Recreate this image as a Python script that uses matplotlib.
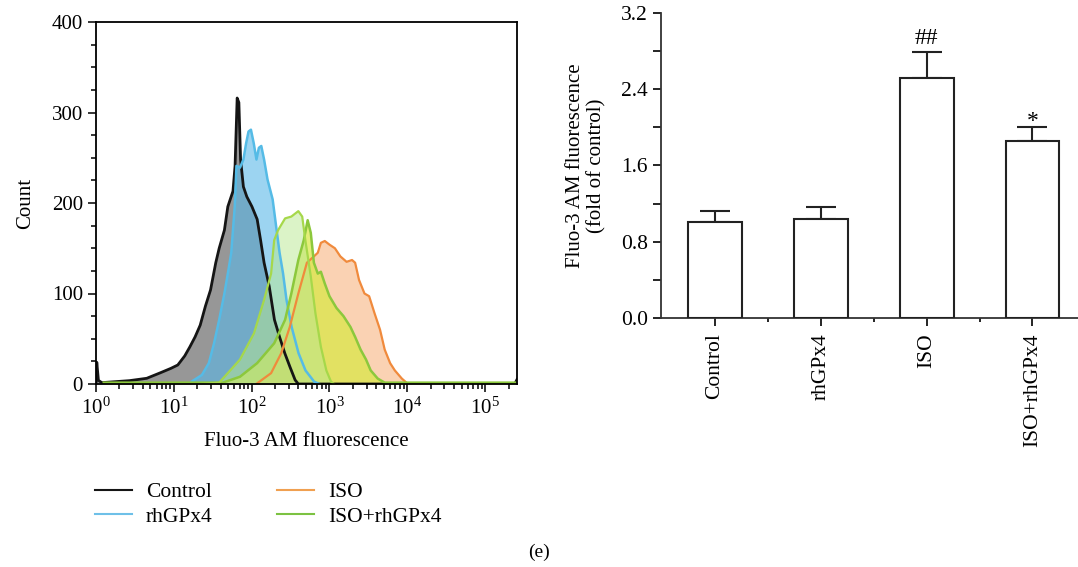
import numpy as np
import matplotlib
matplotlib.use("Agg")
from matplotlib import pyplot as plt
from matplotlib.lines import Line2D
from matplotlib.ticker import LogLocator, LogFormatterSciNotation, MultipleLocator, FixedLocator

plt.rcParams['font.family'] = ['Liberation Serif', 'DejaVu Serif']
plt.rcParams['mathtext.fontset'] = 'custom'
plt.rcParams['mathtext.rm'] = 'Liberation Serif'
plt.rcParams['mathtext.it'] = 'Liberation Serif:italic'

# histogram outlines: log10(fluorescence) and count
control_log = [0.0, 0.01, 0.031, 0.075, 0.43, 0.652, 0.83, 0.963, 1.051, 1.14, 1.206, 1.273, 1.339,
               1.406, 1.472, 1.539, 1.583, 1.65, 1.694, 1.725, 1.76, 1.787, 1.814, 1.836, 1.858,
               1.894, 1.938, 2.004, 2.071, 2.115, 2.16, 2.226, 2.293, 2.359, 2.426, 2.492, 2.559,
               2.6, 5.38, 5.41]
control_cnt = [0, 24, 4, 1.5, 3.7, 6.3, 12.5, 17.3, 21, 31, 41, 52, 65,
               86, 104, 134, 150, 170, 196, 204, 213, 241, 316, 311, 248,
               218, 207, 196, 182, 159, 134, 108, 71, 52, 34, 19, 4.4,
               0, 0, 5]

rhgpx4_log = [1.228, 1.361, 1.45, 1.517, 1.583, 1.65, 1.694, 1.738, 1.783, 1.805, 1.85, 1.894,
              1.929, 1.96, 1.991, 2.027, 2.062, 2.093, 2.124, 2.16, 2.204, 2.27, 2.315, 2.359,
              2.404, 2.448, 2.514, 2.603, 2.692, 2.803, 2.87]
rhgpx4_cnt = [2.6, 10, 23, 45, 71, 100, 122, 145, 196, 241, 239, 248,
              266, 279, 281, 266, 248, 261, 263, 248, 226, 204, 174, 145,
              122, 93, 63, 34, 15, 2.6, 0]

iso_log = [2.07, 2.25, 2.38, 2.49, 2.6, 2.71, 2.8, 2.85, 2.89, 2.94, 3.0, 3.07, 3.14, 3.22,
           3.29, 3.33, 3.38, 3.45, 3.51, 3.58, 3.65, 3.71, 3.78, 3.84, 3.93, 4.0]
iso_cnt = [0.7, 12, 34, 63, 100, 134, 141, 145, 156, 158, 154, 150, 141, 135,
           137, 134, 115, 100, 97, 78, 60, 38, 23, 15, 6, 0.7]

isorh_log = [0.1, 1.0, 1.63, 1.85, 2.07, 2.29, 2.43, 2.51, 2.6, 2.67, 2.72, 2.76, 2.8, 2.85,
             2.89, 2.94, 3.0, 3.09, 3.18, 3.27, 3.33, 3.4, 3.47, 3.53, 3.62, 3.71, 3.8, 5.41]
isorh_cnt = [1.5, 1.5, 1.5, 8, 23, 45, 71, 100, 137, 159, 181, 167, 134, 122,
             124, 111, 97, 84, 75, 63, 52, 38, 27, 15, 6, 1.5, 1.5, 1.5]

isorh2_log = [1.35, 1.583, 1.85, 2.03, 2.16, 2.25, 2.29, 2.34, 2.43, 2.51, 2.6, 2.65, 2.69,
              2.76, 2.82, 2.89, 2.96, 3.02, 3.06]
isorh2_cnt = [0, 1.5, 27, 56, 93, 122, 159, 170, 183, 185, 191, 185, 159,
              119, 78, 41, 15, 2.6, 0]

groups = ["Control", "rhGPx4", "ISO", "ISO+rhGPx4"]
means = [1.01, 1.04, 2.52, 1.86]
sems = [0.11, 0.12, 0.27, 0.14]
marks = ["", "", "##", "*"]
mark_y = [0, 0, 2.93, 2.06]

fig = plt.figure(figsize=(10.78, 5.67), dpi=100)

# left: flow cytometry histogram
ax1 = fig.add_axes([96 / 1078, 1 - 384 / 567, (517 - 96) / 1078, (384 - 22) / 567])
curves = [
    (control_log, control_cnt, '#8c8c8c', 0.9, '#151515', 2.0),
    (rhgpx4_log, rhgpx4_cnt, '#5ab8e8', 0.6, '#55bbe6', 1.8),
    (iso_log, iso_cnt, '#f7a668', 0.5, '#f08a3c', 1.6),
    (isorh_log, isorh_cnt, '#d8e840', 0.7, '#8cc83c', 1.8),
    (isorh2_log, isorh2_cnt, '#b8e890', 0.5, '#a6d84a', 1.6),
]
for lx, cnt, fc, a, lc, lw in curves:
    x = 10 ** np.array(lx)
    ax1.fill_between(x, 0, cnt, color=fc, alpha=a, lw=0)
    ax1.plot(x, cnt, color=lc, lw=lw)

ax1.set_xscale('log')
ax1.set_xlim(1, 10 ** 5.41)
ax1.set_ylim(0, 400)
ax1.xaxis.set_major_locator(LogLocator(base=10, numticks=10))
ax1.xaxis.set_major_formatter(LogFormatterSciNotation())
ax1.xaxis.set_minor_locator(LogLocator(base=10, subs=np.arange(2, 10), numticks=20))
ax1.yaxis.set_major_locator(MultipleLocator(100))
ax1.yaxis.set_minor_locator(MultipleLocator(25))
ax1.tick_params(which='both', direction='out', top=False, right=False, labelsize=15, width=1.1)
ax1.tick_params(which='major', length=6)
ax1.tick_params(which='minor', length=3.5)
for s in ax1.spines.values():
    s.set_linewidth(1.3)
ax1.set_xlabel("Fluo-3 AM fluorescence", fontsize=15, labelpad=10)
ax1.set_ylabel("Count", fontsize=15, labelpad=12)

handles = [Line2D([], [], color='#151515', lw=1.5), Line2D([], [], color='#6ec0e8', lw=1.5),
           Line2D([], [], color='#f0a050', lw=1.5), Line2D([], [], color='#7cc242', lw=1.5)]
fig.legend(handles, groups, loc='upper left', bbox_to_anchor=(76 / 1078, 1 - 463 / 567), ncol=2,
           frameon=False, fontsize=15.5, handlelength=1.7, columnspacing=3.0, labelspacing=0.2,
           handletextpad=0.65)

# right: bar chart
ax2 = fig.add_axes([661 / 1078, 1 - 318 / 567, (1078 - 661) / 1078, (318 - 13) / 567])
pos = np.arange(len(groups))
ax2.bar(pos, means, width=0.51, color='white', edgecolor='#222222', linewidth=1.5, zorder=3)
ax2.errorbar(pos, means, yerr=[np.zeros(len(sems)), sems], fmt='none', ecolor='#222222',
             elinewidth=1.5, capsize=11, capthick=1.5, zorder=2)
for p, t, y in zip(pos, marks, mark_y):
    if t:
        ax2.text(p, y, t, ha='center', va='center', fontsize=17)
ax2.set_xlim(-0.51, 3.43)
ax2.set_ylim(0, 3.2)
ax2.yaxis.set_major_locator(MultipleLocator(0.8))
ax2.yaxis.set_minor_locator(MultipleLocator(0.4))
ax2.yaxis.set_major_formatter(matplotlib.ticker.FormatStrFormatter('%.1f'))
ax2.set_xticks(pos)
ax2.set_xticklabels(groups, rotation=90, fontsize=15.5)
ax2.xaxis.set_minor_locator(FixedLocator([0.5, 1.5, 2.5]))
ax2.tick_params(axis='y', which='both', direction='out', length=6, width=1.2, labelsize=15.5)
ax2.tick_params(axis='x', which='major', direction='out', length=6, width=1.2, pad=5)
ax2.tick_params(axis='x', which='minor', direction='out', length=3, width=1.2)
for k in ['top', 'right']:
    ax2.spines[k].set_visible(False)
for k in ['left', 'bottom']:
    ax2.spines[k].set_linewidth(1.3)
    ax2.spines[k].set_color('#333333')
ax2.set_ylabel("Fluo-3 AM fluorescence\n(fold of control)", fontsize=15, labelpad=10)

fig.text(539 / 1078, 1 - 552 / 567, "(e)", ha='center', va='center', fontsize=14)

fig.savefig("out.png", dpi=100)
